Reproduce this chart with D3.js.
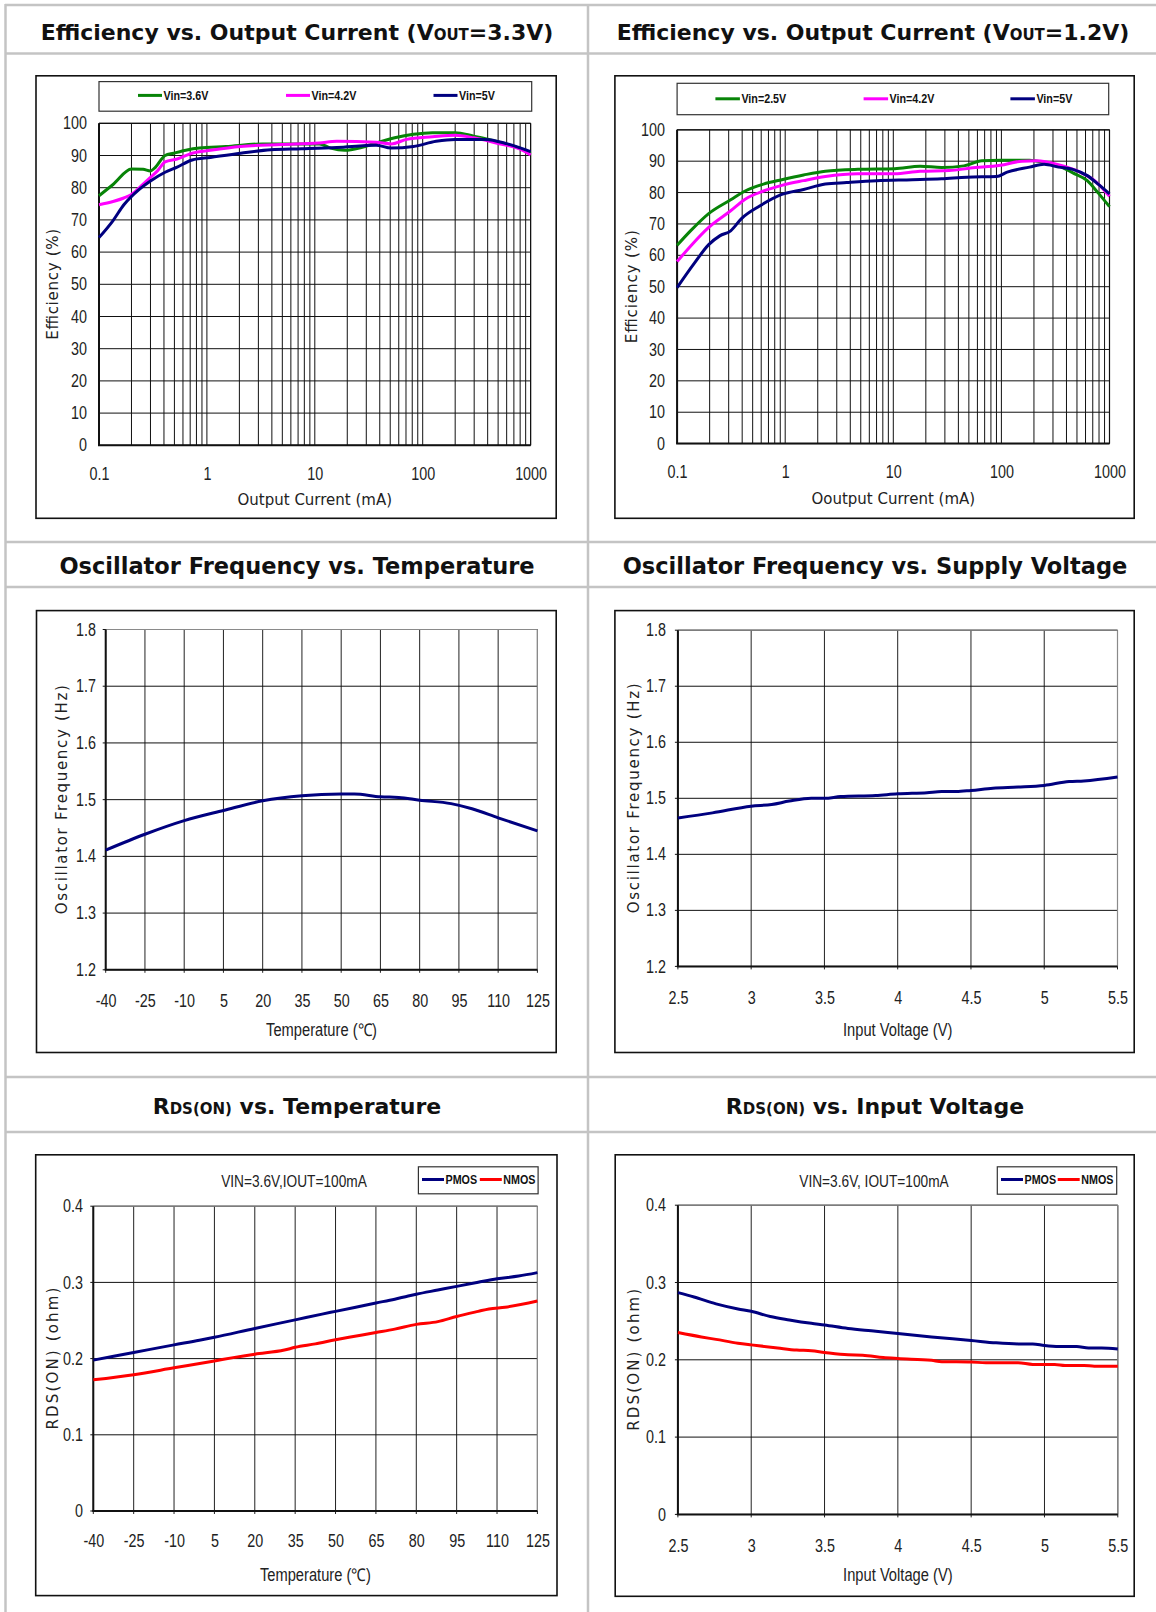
<!DOCTYPE html>
<html lang="en">
<head>
<meta charset="UTF-8">
<title>Typical Performance Characteristics</title>
<script src="https://d3js.org/d3.v7.min.js"></script>
<style>
    body { margin: 0; background: #fff; }
    svg { display: block; }
</style>
</head>
<body>
<div id="page"></div>
<script>
// ---- data ----
// efficiency, VOUT=3.3V  [mA, %]
const eff33Vin36 = [[0.1,77.5],[0.135,81],[0.2,85.8],[0.256,85.7],[0.3,85.2],[0.325,86],[0.41,90],[0.49,90.7],[0.67,91.8],[0.85,92.3],[1.5,92.8],[3.3,93.6],[11,93.6],[14,92.3],[19,91.6],[27,92.5],[37,93.9],[55,95.5],[82,96.6],[123,97.1],[200,97.1],[297,96],[410,95],[610,93.4],[780,92.3],[1000,90.7]];
const eff33Vin42 = [[0.1,74.7],[0.135,75.7],[0.17,76.8],[0.2,77.9],[0.245,80.5],[0.3,83.2],[0.35,85.3],[0.41,88],[0.53,88.9],[0.73,90.7],[1.08,91.6],[2.05,92.8],[4.9,93.4],[11,93.9],[16,94.4],[37,94.1],[51,93.6],[71,95],[123,95.8],[200,96.3],[297,95.5],[480,93.9],[780,92.1],[1000,90.2]];
const eff33Vin5 = [[0.1,64.5],[0.135,69.8],[0.17,74.7],[0.236,79.5],[0.3,82.1],[0.41,84.8],[0.53,86.4],[0.73,88.6],[1.08,89.4],[2.05,90.7],[3.9,91.8],[7.5,92.1],[16,92.5],[37,93.2],[51,92.3],[82,92.8],[133,94.4],[200,95],[380,95],[610,93.6],[1000,91.2]];

// efficiency, VOUT=1.2V  [mA, %]
const eff12Vin25 = [[0.1,63.2],[0.133,67.8],[0.196,73.3],[0.313,77.7],[0.426,80.5],[0.63,82.7],[0.93,84.1],[1.48,85.6],[2.35,86.8],[4.7,87.4],[10.3,87.6],[17.7,88.4],[28,88],[45,88.5],[66,90.1],[98,90.3],[182,90.3],[248,89.6],[337,88.5],[458,86.3],[623,83.8],[785,79.9],[1000,75.5]];
const eff12Vin42 = [[0.1,58],[0.133,62.9],[0.196,68.9],[0.313,74.2],[0.426,77.9],[0.63,80.5],[0.93,82.3],[1.48,83.8],[2.35,85.1],[4.7,86],[10.3,86],[17.7,86.8],[33,87],[52,87.8],[98,88.7],[155,90],[210,90.1],[337,88.9],[534,86.5],[727,83.8],[1000,78.8]];
const eff12Vin5 = [[0.1,49.7],[0.144,57.4],[0.196,63.4],[0.248,66.2],[0.313,67.8],[0.394,71.7],[0.58,75.7],[0.93,79.4],[1.48,81],[2.35,82.7],[3.7,83.2],[7,83.8],[15,84.1],[28,84.4],[48,84.9],[90,85.1],[113,86.5],[182,88.1],[248,89],[337,88.1],[458,87.4],[623,85.4],[785,82.7],[1000,79.6]];

// oscillator frequency
const oscTempC = [-40,-25,-10,5,20,35,50,55,65,72,80,92,100,110,125];
const oscTempF = [1.411,1.439,1.463,1.481,1.498,1.507,1.510,1.510,1.505,1.504,1.499,1.493,1.484,1.468,1.445];
const oscVoltV = [2.5,2.736,3.0,3.14,3.26,3.41,3.5,3.61,3.85,4.0,4.2,4.3,4.4,4.5,4.65,4.82,5.0,5.17,5.27,5.5];
const oscVoltF = [1.465,1.474,1.486,1.489,1.495,1.5,1.5,1.503,1.505,1.508,1.51,1.512,1.512,1.514,1.518,1.52,1.523,1.53,1.531,1.538];

// RDS(ON) vs temperature [degC, ohm]
const rdsTempP = [[-40,0.198],[-25,0.208],[-10,0.218],[-0.6,0.224],[5,0.228],[20,0.2396],[35,0.2508],[45,0.2584],[50,0.262],[65,0.273],[72,0.278],[77,0.2822],[80,0.2845],[88,0.29],[95,0.2948],[103,0.3002],[110,0.3047],[118,0.3083],[125,0.3128]];
const rdsTempN = [[-40,0.1721],[-25,0.1789],[-10,0.1879],[5,0.1969],[12,0.2013],[20,0.2058],[31,0.2112],[35,0.2148],[42.5,0.2193],[50,0.2247],[55,0.2279],[65,0.2342],[72,0.2387],[80,0.2449],[88,0.2485],[95,0.2553],[103,0.262],[107,0.2652],[113,0.2674],[125,0.2755]];
// RDS(ON) vs input voltage [V, ohm]
const rdsVoltP = [[2.5,0.287],[2.61,0.2813],[2.76,0.2724],[2.91,0.2658],[3.0,0.2627],[3.13,0.256],[3.26,0.2516],[3.41,0.2472],[3.5,0.245],[3.66,0.2405],[3.85,0.237],[4.0,0.2339],[4.23,0.2295],[4.5,0.225],[4.67,0.2219],[4.82,0.2206],[4.92,0.2206],[5.0,0.2184],[5.1,0.2171],[5.22,0.2171],[5.3,0.2153],[5.39,0.2153],[5.5,0.214]];
const rdsVoltN = [[2.5,0.2352],[2.66,0.2295],[2.76,0.2264],[2.91,0.2215],[3.0,0.2193],[3.18,0.2153],[3.31,0.2126],[3.41,0.2117],[3.5,0.2095],[3.66,0.2064],[3.76,0.206],[3.9,0.2029],[4.0,0.2016],[4.23,0.1993],[4.3,0.1976],[4.5,0.1971],[4.6,0.1962],[4.82,0.1962],[4.92,0.194],[5.07,0.194],[5.14,0.1927],[5.27,0.1927],[5.34,0.1918],[5.5,0.1918]];

// ticks
const effTicks = [0,10,20,30,40,50,60,70,80,90,100];
const currentTicks = [0.1,1,10,100,1000];
const tempTicks = [-40,-25,-10,5,20,35,50,65,80,95,110,125];
const voltTicks = [2.5,3,3.5,4,4.5,5,5.5];
const freqTicks = [1.2,1.3,1.4,1.5,1.6,1.7,1.8];
const rdsTicks = [0,0.1,0.2,0.3,0.4];

const GREEN = "#078407", MAGENTA = "#ff00ff", NAVY = "#00007f", RED = "#ff0000";
const TITLE_FONT = "'DejaVu Sans', sans-serif";
const GEO_FONT = "'DejaVu Sans', sans-serif";
const NARROW_FONT = "'Liberation Sans', Arial, sans-serif";

const W = 1156, H = 1612;
const svg = d3.select("#page").append("svg").attr("width", W).attr("height", H);
svg.append("rect").attr("width", W).attr("height", H).attr("fill", "#fff");

// squeeze text horizontally around its own anchor (no condensed face installed)
function squeeze(sel, k) {
    sel.each(function () {
        const t = d3.select(this);
        const x = +t.attr("x") || 0;
        t.attr("x", x / k).attr("transform", `scale(${k},1)`);
    });
}

// table frame
const frame = svg.append("g").attr("stroke", "#c4c4c4").attr("stroke-width", 2.5);
[5, 53.5, 542, 587, 1077, 1132].forEach(yy =>
    frame.append("line").attr("x1", 5).attr("x2", W).attr("y1", yy).attr("y2", yy));
[5.5, 588].forEach(xx =>
    frame.append("line").attr("x1", xx).attr("x2", xx).attr("y1", 4).attr("y2", H));

// cell titles, small-caps part in a smaller tspan
function cellTitle(cx, baseline, parts, size) {
    const t = svg.append("text").attr("x", cx).attr("y", baseline)
        .attr("text-anchor", "middle")
        .style("font-family", TITLE_FONT).style("font-weight", "bold").style("font-size", size + "px")
        .attr("fill", "#111");
    parts.forEach(p => t.append("tspan").text(p[0]).style("font-size", p[1] ? "15px" : null));
}
cellTitle(297, 40, [["Efficiency vs. Output Current (V"], ["OUT", 1], ["=3.3V)"]], 22);
cellTitle(873, 40, [["Efficiency vs. Output Current (V"], ["OUT", 1], ["=1.2V)"]], 22);
cellTitle(297, 574, [["Oscillator Frequency vs. Temperature"]], 22.5);
cellTitle(875, 574, [["Oscillator Frequency vs. Supply Voltage"]], 22.5);
cellTitle(297, 1114, [["R"], ["DS(ON)", 1], [" vs. Temperature"]], 22);
cellTitle(875, 1114, [["R"], ["DS(ON)", 1], [" vs. Input Voltage"]], 22);

function drawChart(o) {
    const g = svg.append("g");
    const [bx0, by0, bx1, by1] = o.box;
    const [px0, py0, px1, py1] = o.plot;

    g.append("rect").attr("x", bx0).attr("y", by0)
        .attr("width", bx1 - bx0).attr("height", by1 - by0)
        .attr("fill", "#fff").attr("stroke", "#111").attr("stroke-width", 1.6);

    const x = (o.log ? d3.scaleLog() : d3.scaleLinear()).domain(o.xDomain).range([px0, px1]);
    const y = d3.scaleLinear().domain(o.yDomain).range([py1, py0]);

    const xGrid = o.log ? x.ticks() : o.xTicks;

    // grid
    g.append("g").selectAll("line").data(xGrid).join("line")
        .attr("x1", d => x(d)).attr("x2", d => x(d))
        .attr("y1", py0).attr("y2", py1 + (o.log ? 0 : 3))
        .attr("stroke", o.vGrid).attr("stroke-width", 1);
    g.append("g").selectAll("line").data(o.yTicks).join("line")
        .attr("x1", px0 - (o.log ? 0 : 3)).attr("x2", px1)
        .attr("y1", d => y(d)).attr("y2", d => y(d))
        .attr("stroke", "#111").attr("stroke-width", 1);

    // plot frame: top / right lighter, left / bottom heavy
    g.append("line").attr("x1", px0).attr("x2", px1).attr("y1", py0).attr("y2", py0)
        .attr("stroke", o.log ? "#111" : "#8a8a8a").attr("stroke-width", 1.2);
    g.append("line").attr("x1", px1).attr("x2", px1).attr("y1", py0).attr("y2", py1)
        .attr("stroke", o.log ? "#111" : "#8a8a8a").attr("stroke-width", 1.2);
    g.append("line").attr("x1", px0).attr("x2", px0).attr("y1", py0).attr("y2", py1)
        .attr("stroke", "#111").attr("stroke-width", 2);
    g.append("line").attr("x1", px0 - 1).attr("x2", px1).attr("y1", py1).attr("y2", py1)
        .attr("stroke", "#111").attr("stroke-width", 2);

    // tick labels
    const yAx = g.append("g").attr("transform", `translate(${px0},0)`)
        .call(d3.axisLeft(y).tickValues(o.yTicks).tickSize(0).tickPadding(px0 - o.yLabelRight).tickFormat(o.yFmt));
    const xAx = g.append("g").attr("transform", `translate(0,${py1})`)
        .call(d3.axisBottom(x).tickValues(o.xTicks).tickSize(0).tickPadding(o.xLabelOff - 6.5).tickFormat(o.xFmt));
    [yAx, xAx].forEach(a => {
        a.select(".domain").remove();
        a.selectAll("text").attr("fill", "#222")
            .style("font-family", NARROW_FONT).style("font-size", "17.5px")
            .call(squeeze, 0.82);
    });

    // axis titles
    const xt = g.append("text").attr("x", (px0 + px1) / 2).attr("y", o.xTitleY)
        .attr("text-anchor", "middle").attr("fill", "#222")
        .style("font-family", o.xTitleNarrow ? NARROW_FONT : GEO_FONT)
        .style("font-size", o.xTitleNarrow ? "17.5px" : "15px")
        .text(o.xTitle);
    if (o.xTitleNarrow) xt.call(squeeze, 0.84);
    g.append("text")
        .attr("transform", `translate(${o.yTitleX},${(py0 + py1) / 2}) rotate(-90)`)
        .attr("text-anchor", "middle").attr("dy", "0.35em").attr("fill", "#222")
        .attr("textLength", o.yTitleLen).attr("lengthAdjust", "spacing")
        .style("font-family", GEO_FONT).style("font-size", "15px")
        .text(o.yTitle);

    // curves
    const line = d3.line().x(d => x(d[0])).y(d => y(d[1])).curve(d3.curveMonotoneX);
    o.series.forEach(s => {
        g.append("path").datum(s.data)
            .attr("d", line).attr("fill", "none")
            .attr("stroke", s.color).attr("stroke-width", 3)
            .attr("stroke-linejoin", "round");
    });

    // legend
    if (o.legend) {
        const L = o.legend;
        g.append("rect").attr("x", L.box[0]).attr("y", L.box[1])
            .attr("width", L.box[2] - L.box[0]).attr("height", L.box[3] - L.box[1])
            .attr("fill", "#fff").attr("stroke", "#333").attr("stroke-width", 1.2);
        o.series.forEach((s, i) => {
            const lx = L.items[i];
            g.append("line").attr("x1", lx).attr("x2", lx + L.len)
                .attr("y1", L.cy).attr("y2", L.cy)
                .attr("stroke", s.color).attr("stroke-width", 3);
            g.append("text").attr("x", lx + L.len + 1.5).attr("y", L.cy + 4.5)
                .attr("fill", "#111")
                .style("font-family", NARROW_FONT).style("font-weight", "bold").style("font-size", "12.5px")
                .text(s.name)
                .call(squeeze, 0.86);
        });
    }
    if (o.note) {
        g.append("text").attr("x", o.note.x).attr("y", o.note.y)
            .attr("text-anchor", "middle").attr("fill", "#222")
            .style("font-family", NARROW_FONT).style("font-size", "16.5px")
            .text(o.note.text)
            .call(squeeze, 0.83);
    }
}

const fmtCur = d => String(d);
const fmtInt = d => String(d);
const fmt1 = d => d === 0 ? "0" : d.toFixed(1);

drawChart({
    box: [36, 75.8, 556.2, 518.3], plot: [99, 123.3, 530.6, 445.3],
    log: true, xDomain: [0.1, 1000], xTicks: currentTicks, xFmt: fmtCur,
    yDomain: [0, 100], yTicks: effTicks, yFmt: fmtInt,
    vGrid: "#111", yLabelRight: 87, xLabelOff: 29,
    xTitle: "Output Current (mA)", xTitleY: 504.5,
    yTitle: "Efficiency (%)", yTitleX: 52.5, yTitleLen: 111,
    series: [
        { name: "Vin=3.6V", color: GREEN, data: eff33Vin36 },
        { name: "Vin=4.2V", color: MAGENTA, data: eff33Vin42 },
        { name: "Vin=5V", color: NAVY, data: eff33Vin5 }
    ],
    legend: { box: [99, 81.6, 531.7, 111.2], items: [138, 286, 433.5], len: 24, cy: 95.4 }
});

drawChart({
    box: [614.9, 75.8, 1134.2, 518.3], plot: [677.1, 129.8, 1109.5, 443.6],
    log: true, xDomain: [0.1, 1000], xTicks: currentTicks, xFmt: fmtCur,
    yDomain: [0, 100], yTicks: effTicks, yFmt: fmtInt,
    vGrid: "#111", yLabelRight: 665, xLabelOff: 28,
    xTitle: "Ooutput Current (mA)", xTitleY: 504,
    yTitle: "Efficiency (%)", yTitleX: 631.5, yTitleLen: 113,
    series: [
        { name: "Vin=2.5V", color: GREEN, data: eff12Vin25 },
        { name: "Vin=4.2V", color: MAGENTA, data: eff12Vin42 },
        { name: "Vin=5V", color: NAVY, data: eff12Vin5 }
    ],
    legend: { box: [677.1, 83.3, 1108.7, 114.7], items: [715.4, 863.6, 1010.4], len: 24.5, cy: 98.8 }
});

drawChart({
    box: [36.5, 610.6, 556.2, 1052.5], plot: [105.7, 629.5, 537.4, 969.8],
    log: false, xDomain: [-40, 125], xTicks: tempTicks, xFmt: fmtInt,
    yDomain: [1.2, 1.8], yTicks: freqTicks, yFmt: fmt1,
    vGrid: "#222", yLabelRight: 96, xLabelOff: 31,
    xTitle: "Temperature (\u2103)", xTitleNarrow: true, xTitleY: 1036,
    yTitle: "Oscillator Frequency (Hz)", yTitleX: 62, yTitleLen: 229,
    series: [{ name: "freq", color: NAVY, data: oscTempC.map((t, i) => [t, oscTempF[i]]) }]
});

drawChart({
    box: [614.9, 610.6, 1134.2, 1052.5], plot: [677.9, 630.2, 1117.5, 966.4],
    log: false, xDomain: [2.5, 5.5], xTicks: voltTicks, xFmt: fmtInt,
    yDomain: [1.2, 1.8], yTicks: freqTicks, yFmt: fmt1,
    vGrid: "#222", yLabelRight: 666, xLabelOff: 31.5,
    xTitle: "Input Voltage (V)", xTitleNarrow: true, xTitleY: 1036,
    yTitle: "Oscillator Frequency (Hz)", yTitleX: 634, yTitleLen: 230,
    series: [{ name: "freq", color: NAVY, data: oscVoltV.map((v, i) => [v, oscVoltF[i]]) }]
});

drawChart({
    box: [35.7, 1154.8, 557, 1595.6], plot: [93.3, 1206.2, 537.4, 1511],
    log: false, xDomain: [-40, 125], xTicks: tempTicks, xFmt: fmtInt,
    yDomain: [0, 0.4], yTicks: rdsTicks, yFmt: fmt1,
    vGrid: "#222", yLabelRight: 83, xLabelOff: 30.5,
    xTitle: "Temperature (\u2103)", xTitleNarrow: true, xTitleY: 1581,
    yTitle: "RDS(ON) (ohm)", yTitleX: 52.5, yTitleLen: 142,
    series: [
        { name: "PMOS", color: NAVY, data: rdsTempP },
        { name: "NMOS", color: RED, data: rdsTempN }
    ],
    legend: { box: [418.4, 1166.8, 538.1, 1193.8], items: [422, 479.8], len: 22, cy: 1179.5 },
    note: { x: 294, y: 1187.5, text: "VIN=3.6V,IOUT=100mA" }
});

drawChart({
    box: [615.2, 1154.8, 1134.2, 1596.3], plot: [677.9, 1205.2, 1117.8, 1514.4],
    log: false, xDomain: [2.5, 5.5], xTicks: voltTicks, xFmt: fmtInt,
    yDomain: [0, 0.4], yTicks: rdsTicks, yFmt: fmt1,
    vGrid: "#222", yLabelRight: 666, xLabelOff: 31.5,
    xTitle: "Input Voltage (V)", xTitleNarrow: true, xTitleY: 1581,
    yTitle: "RDS(ON) (ohm)", yTitleX: 634, yTitleLen: 142,
    series: [
        { name: "PMOS", color: NAVY, data: rdsVoltP },
        { name: "NMOS", color: RED, data: rdsVoltN }
    ],
    legend: { box: [997.3, 1166.8, 1116.7, 1194.2], items: [1001, 1057.7], len: 22, cy: 1179.5 },
    note: { x: 874, y: 1187.5, text: "VIN=3.6V, IOUT=100mA" }
});
</script>
</body>
</html>
